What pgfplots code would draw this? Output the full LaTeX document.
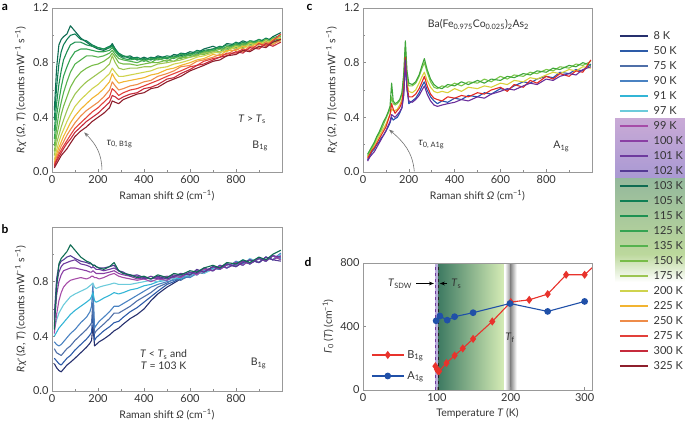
\documentclass[border=0pt]{standalone}
\usepackage{pgfplots}
\pgfplotsset{compat=1.18}
\usepackage{pgfplotstable}
\usepackage{fontspec}
\setmainfont{Lato}
\newfontfamily\dejavu{DejaVu Sans}
\usetikzlibrary{arrows.meta}

\definecolor{k8}{HTML}{26306E}
\definecolor{k50}{HTML}{2D5BA8}
\definecolor{k75}{HTML}{4F6FA8}
\definecolor{k90}{HTML}{4A82C2}
\definecolor{k91}{HTML}{33B5D6}
\definecolor{k97}{HTML}{6CCBDB}
\definecolor{k99}{HTML}{A64CA8}
\definecolor{k100}{HTML}{8A3FA4}
\definecolor{k101}{HTML}{6E3A9E}
\definecolor{k102}{HTML}{553A94}
\definecolor{k103}{HTML}{0E6B52}
\definecolor{k105}{HTML}{0F7F55}
\definecolor{k115}{HTML}{1E9152}
\definecolor{k125}{HTML}{34A352}
\definecolor{k135}{HTML}{55B24E}
\definecolor{k150}{HTML}{77BC48}
\definecolor{k175}{HTML}{9CC552}
\definecolor{k200}{HTML}{CFD34E}
\definecolor{k225}{HTML}{F2B431}
\definecolor{k250}{HTML}{EE8C4A}
\definecolor{k275}{HTML}{E2403A}
\definecolor{k300}{HTML}{C62B3C}
\definecolor{k325}{HTML}{8E1F2C}
\definecolor{cb}{HTML}{2452B0}
\definecolor{cp}{HTML}{6A2D9A}
\definecolor{cr}{HTML}{E22A22}
\definecolor{cy}{HTML}{D9D13A}
\definecolor{cg}{HTML}{3FA63A}
\definecolor{cl}{HTML}{7BC74A}
\definecolor{dred}{HTML}{E8332C}
\definecolor{dblue}{HTML}{2050A8}
\definecolor{G1}{HTML}{3E7A62}
\definecolor{G2}{HTML}{8DBC98}
\definecolor{G3}{HTML}{D4EBB5}
\definecolor{P1}{HTML}{C9AAD6}
\definecolor{P2}{HTML}{A999D3}
\definecolor{L1}{HTML}{94B89C}
\definecolor{L2}{HTML}{BCD89C}

\pgfplotstableread{
x a103 a105 a115 a125 a135 a150 a175 a200 a225 a250 a275 a300 a325
10 0.45 0.38 0.30 0.24 0.19 0.15 0.12 0.09 0.07 0.06 0.05 0.04 0.03
20 0.76 0.62 0.50 0.41 0.32 0.26 0.21 0.16 0.13 0.11 0.09 0.08 0.06
30 0.93 0.79 0.64 0.52 0.43 0.34 0.27 0.22 0.18 0.15 0.13 0.11 0.09
40 0.97 0.88 0.74 0.62 0.51 0.42 0.33 0.27 0.22 0.19 0.16 0.14 0.12
50 0.99 0.93 0.82 0.70 0.58 0.48 0.38 0.31 0.26 0.22 0.19 0.17 0.14
65 1.01 0.97 0.88 0.77 0.66 0.55 0.45 0.37 0.31 0.27 0.23 0.21 0.17
80 1.07 1.00 0.93 0.83 0.73 0.62 0.51 0.42 0.36 0.31 0.27 0.24 0.21
100 1.03 1.01 0.95 0.88 0.79 0.68 0.57 0.48 0.41 0.36 0.32 0.29 0.26
125 0.98 0.97 0.95 0.90 0.82 0.73 0.62 0.53 0.46 0.41 0.36 0.33 0.30
150 0.95 0.96 0.93 0.90 0.85 0.76 0.66 0.57 0.50 0.45 0.40 0.37 0.33
175 0.92 0.93 0.92 0.89 0.85 0.78 0.69 0.61 0.54 0.48 0.44 0.40 0.37
200 0.90 0.91 0.91 0.88 0.84 0.79 0.72 0.64 0.57 0.51 0.47 0.43 0.40
225 0.89 0.90 0.90 0.88 0.85 0.81 0.75 0.68 0.61 0.55 0.51 0.47 0.43
250 0.91 0.92 0.91 0.89 0.87 0.84 0.79 0.72 0.66 0.60 0.55 0.51 0.47
262 0.94 0.93 0.92 0.91 0.89 0.87 0.85 0.76 0.72 0.66 0.61 0.56 0.52
275 0.90 0.90 0.89 0.88 0.86 0.84 0.80 0.73 0.68 0.63 0.59 0.55 0.51
290 0.86 0.87 0.86 0.85 0.83 0.80 0.76 0.70 0.65 0.60 0.56 0.53 0.50
310 0.84 0.85 0.85 0.83 0.82 0.79 0.75 0.70 0.66 0.61 0.58 0.55 0.53
340 0.85 0.83 0.84 0.82 0.81 0.79 0.76 0.71 0.67 0.63 0.60 0.57 0.55
370 0.82 0.84 0.82 0.83 0.80 0.78 0.76 0.72 0.68 0.64 0.61 0.58 0.57
400 0.84 0.82 0.83 0.81 0.82 0.79 0.77 0.73 0.69 0.66 0.63 0.61 0.58
430 0.82 0.84 0.82 0.83 0.80 0.80 0.77 0.74 0.71 0.67 0.65 0.62 0.61
460 0.85 0.83 0.84 0.82 0.83 0.80 0.79 0.76 0.72 0.70 0.67 0.64 0.62
500 0.83 0.85 0.83 0.84 0.81 0.82 0.80 0.77 0.75 0.72 0.70 0.68 0.66
530 0.86 0.84 0.85 0.83 0.84 0.81 0.81 0.79 0.76 0.74 0.72 0.69 0.68
560 0.85 0.87 0.84 0.86 0.83 0.84 0.82 0.80 0.78 0.77 0.74 0.72 0.70
600 0.88 0.86 0.87 0.85 0.86 0.84 0.84 0.82 0.80 0.78 0.77 0.75 0.74
630 0.87 0.89 0.86 0.88 0.85 0.86 0.85 0.84 0.82 0.81 0.78 0.78 0.76
660 0.90 0.88 0.89 0.87 0.88 0.86 0.87 0.85 0.83 0.82 0.81 0.79 0.78
700 0.92 0.90 0.90 0.89 0.89 0.88 0.88 0.87 0.86 0.84 0.83 0.82 0.81
730 0.90 0.92 0.91 0.91 0.88 0.90 0.87 0.88 0.85 0.86 0.84 0.84 0.82
760 0.94 0.91 0.93 0.90 0.92 0.89 0.91 0.88 0.89 0.86 0.87 0.85 0.85
800 0.93 0.95 0.92 0.94 0.91 0.93 0.90 0.92 0.89 0.90 0.87 0.88 0.86
830 0.96 0.93 0.95 0.92 0.94 0.91 0.93 0.90 0.92 0.88 0.90 0.87 0.89
860 0.94 0.96 0.93 0.96 0.93 0.95 0.92 0.94 0.91 0.92 0.89 0.91 0.88
900 0.97 0.95 0.97 0.94 0.96 0.93 0.95 0.93 0.95 0.91 0.94 0.90 0.92
930 0.95 0.98 0.94 0.97 0.94 0.97 0.93 0.96 0.92 0.95 0.92 0.94 0.91
960 0.99 0.96 0.98 0.95 0.98 0.95 0.97 0.94 0.97 0.93 0.96 0.92 0.95
995 1.02 0.98 1.00 0.97 0.99 0.97 1.00 0.96 0.98 0.97 1.01 0.95 0.97
}\tabA

\pgfplotstableread{
x b8 b50 b75 b90 b91 b97 b99 b100 b101 b102 b103
10 0.20 0.24 0.31 0.36 0.40 0.45 0.42 0.48 0.52 0.55 0.45
20 0.17 0.22 0.28 0.34 0.43 0.52 0.56 0.70 0.78 0.82 0.76
30 0.15 0.20 0.27 0.33 0.46 0.57 0.66 0.80 0.87 0.92 0.93
40 0.14 0.19 0.26 0.34 0.48 0.60 0.72 0.85 0.91 0.95 0.97
50 0.16 0.21 0.28 0.36 0.50 0.63 0.76 0.88 0.93 0.96 0.99
65 0.19 0.24 0.31 0.39 0.53 0.66 0.79 0.89 0.94 0.98 1.02
80 0.21 0.26 0.33 0.42 0.56 0.69 0.81 0.90 0.95 0.99 1.07
100 0.24 0.30 0.37 0.45 0.59 0.71 0.82 0.90 0.96 0.97 1.03
125 0.28 0.34 0.41 0.50 0.62 0.73 0.83 0.89 0.93 0.95 0.98
150 0.32 0.38 0.45 0.54 0.65 0.75 0.82 0.88 0.92 0.94 0.95
165 0.35 0.41 0.48 0.58 0.67 0.77 0.83 0.87 0.91 0.93 0.94
172 0.37 0.43 0.50 0.62 0.69 0.78 0.84 0.87 0.90 0.93 0.93
178 0.48 0.58 0.66 0.78 0.72 0.79 0.84 0.88 0.91 0.92 0.92
185 0.33 0.37 0.42 0.46 0.66 0.76 0.83 0.87 0.90 0.92 0.92
192 0.34 0.39 0.44 0.48 0.65 0.75 0.83 0.86 0.89 0.91 0.91
205 0.36 0.41 0.46 0.51 0.66 0.76 0.82 0.86 0.89 0.90 0.90
225 0.38 0.44 0.49 0.54 0.68 0.77 0.83 0.86 0.88 0.90 0.89
250 0.41 0.47 0.53 0.58 0.70 0.78 0.85 0.87 0.89 0.91 0.91
270 0.44 0.50 0.57 0.62 0.72 0.79 0.86 0.88 0.90 0.92 0.94
290 0.46 0.51 0.57 0.62 0.71 0.78 0.84 0.86 0.88 0.88 0.88
310 0.49 0.54 0.59 0.64 0.72 0.78 0.83 0.85 0.86 0.87 0.86
340 0.53 0.58 0.62 0.67 0.74 0.78 0.82 0.84 0.85 0.84 0.85
370 0.56 0.61 0.66 0.70 0.75 0.79 0.81 0.82 0.84 0.85 0.83
400 0.60 0.65 0.69 0.73 0.77 0.80 0.82 0.83 0.82 0.83 0.84
430 0.66 0.69 0.72 0.76 0.78 0.81 0.80 0.82 0.84 0.82 0.82
460 0.71 0.73 0.76 0.78 0.80 0.80 0.82 0.83 0.82 0.84 0.85
500 0.76 0.78 0.79 0.80 0.81 0.83 0.81 0.84 0.83 0.82 0.83
530 0.79 0.80 0.82 0.81 0.83 0.82 0.84 0.83 0.85 0.84 0.86
560 0.82 0.83 0.81 0.84 0.82 0.85 0.83 0.86 0.84 0.86 0.85
600 0.84 0.86 0.85 0.83 0.86 0.84 0.87 0.85 0.87 0.85 0.88
630 0.87 0.85 0.88 0.86 0.85 0.88 0.85 0.88 0.86 0.89 0.87
660 0.86 0.89 0.87 0.89 0.88 0.86 0.89 0.87 0.90 0.87 0.90
700 0.90 0.88 0.91 0.88 0.90 0.89 0.88 0.91 0.88 0.91 0.92
730 0.89 0.92 0.89 0.92 0.89 0.92 0.91 0.89 0.92 0.90 0.90
760 0.93 0.90 0.93 0.90 0.93 0.90 0.93 0.92 0.90 0.93 0.94
800 0.91 0.94 0.92 0.95 0.91 0.94 0.91 0.94 0.93 0.91 0.93
830 0.95 0.92 0.95 0.93 0.96 0.92 0.95 0.92 0.95 0.94 0.96
860 0.93 0.96 0.93 0.96 0.93 0.97 0.93 0.96 0.93 0.96 0.94
900 0.97 0.94 0.97 0.94 0.97 0.94 0.97 0.94 0.97 0.94 0.98
930 0.95 0.98 0.95 0.98 0.95 0.98 0.95 0.98 0.95 0.98 0.96
960 0.99 0.96 0.99 0.96 0.99 0.96 0.99 0.96 0.99 0.96 1.00
995 0.97 1.00 0.96 1.01 0.97 1.00 0.96 0.99 0.98 0.95 1.03
}\tabB

\pgfplotstableread{
x cb cp cr cy cg cl
20 0.09 0.08 0.10 0.11 0.13 0.12
30 0.12 0.11 0.13 0.14 0.16 0.15
40 0.15 0.13 0.16 0.17 0.19 0.18
50 0.17 0.15 0.18 0.20 0.22 0.21
60 0.20 0.18 0.21 0.23 0.26 0.25
70 0.22 0.21 0.24 0.26 0.29 0.28
80 0.25 0.24 0.27 0.29 0.33 0.31
90 0.27 0.27 0.30 0.32 0.37 0.35
100 0.30 0.30 0.33 0.35 0.40 0.39
110 0.33 0.34 0.38 0.39 0.44 0.43
118 0.36 0.37 0.42 0.42 0.48 0.46
125 0.40 0.42 0.50 0.46 0.65 0.55
132 0.38 0.41 0.46 0.45 0.52 0.50
140 0.39 0.40 0.43 0.45 0.50 0.49
150 0.40 0.42 0.45 0.46 0.51 0.50
160 0.43 0.44 0.47 0.49 0.53 0.52
170 0.47 0.47 0.51 0.53 0.58 0.57
178 0.58 0.56 0.62 0.64 0.72 0.70
185 0.80 0.82 0.84 0.88 0.96 0.92
192 0.62 0.60 0.63 0.66 0.74 0.71
200 0.50 0.52 0.55 0.59 0.65 0.63
215 0.52 0.51 0.55 0.58 0.64 0.63
230 0.54 0.53 0.57 0.60 0.66 0.65
245 0.58 0.56 0.61 0.65 0.71 0.70
258 0.63 0.60 0.66 0.70 0.78 0.76
268 0.66 0.63 0.70 0.73 0.83 0.80
280 0.60 0.57 0.63 0.67 0.75 0.73
295 0.55 0.52 0.57 0.62 0.68 0.66
310 0.52 0.49 0.54 0.59 0.64 0.62
325 0.50 0.48 0.53 0.58 0.62 0.61
345 0.52 0.49 0.52 0.59 0.61 0.63
370 0.51 0.50 0.55 0.58 0.64 0.62
400 0.54 0.51 0.54 0.61 0.63 0.65
430 0.53 0.53 0.56 0.59 0.66 0.63
460 0.56 0.52 0.55 0.62 0.64 0.66
500 0.55 0.55 0.58 0.61 0.67 0.65
530 0.58 0.54 0.57 0.63 0.65 0.68
560 0.57 0.57 0.60 0.62 0.68 0.66
600 0.61 0.59 0.62 0.65 0.67 0.70
630 0.60 0.61 0.59 0.64 0.70 0.68
660 0.63 0.60 0.64 0.67 0.69 0.71
700 0.66 0.63 0.62 0.66 0.72 0.70
730 0.65 0.65 0.67 0.69 0.71 0.73
760 0.68 0.64 0.65 0.68 0.74 0.72
800 0.70 0.68 0.70 0.71 0.73 0.75
830 0.69 0.67 0.68 0.73 0.76 0.74
860 0.73 0.70 0.72 0.72 0.75 0.77
900 0.72 0.72 0.70 0.75 0.78 0.76
930 0.75 0.71 0.74 0.74 0.77 0.79
960 0.74 0.75 0.73 0.77 0.80 0.78
995 0.79 0.77 0.82 0.76 0.78 0.81
}\tabC

\tikzset{ann/.style={font=\fontsize{10.5}{12}\selectfont, text=black!80}}
\newcommand{\lt}[1]{\makebox[32pt][l]{#1}}
\pgfplotsset{
  panel/.style={
    scale only axis,
    axis line style={draw=black!40, line width=0.6pt},
    every tick/.style={draw=black!45, line width=0.5pt},
    major tick length=3pt, minor tick length=2pt,
    tick align=inside, xtick pos=left, ytick pos=left,
    tick label style={font=\fontsize{11}{12}\selectfont, text=black!80},
    label style={font=\fontsize{10.5}{12}\selectfont, text=black!80},
    /pgf/number format/assume math mode=true,
  },
  raman/.style={panel, xmin=0, xmax=1000, ymin=0, ymax=1.2,
    xtick={0,200,400,600,800}, minor xtick={100,300,500,700,900},
    ytick={0,0.4,0.8,1.2}, minor ytick={0.2,0.6,1.0},
    yticklabel style={/pgf/number format/fixed, /pgf/number format/fixed zerofill, /pgf/number format/precision=1},
    xlabel={Raman shift \textit{Ω} (cm\textsuperscript{−1})},
    ylabel={\textit{Rχ}{\dejavu\fontsize{9}{10}\selectfont ″}\,(\textit{Ω}, \textit{T}) (counts mW\textsuperscript{−1} s\textsuperscript{−1})},
    every axis plot/.append style={line width=1.1pt, line join=round},
  },
}

\begin{document}
\begin{tikzpicture}
\useasboundingbox (0pt,0pt) rectangle (685pt,424pt);

% legend backgrounds
\path[top color=P1, bottom color=P2] (615pt,246pt) rectangle (685pt,306pt);
\path[top color=L1, bottom color=L2] (615pt,170pt) rectangle (685pt,246pt);
\path[top color=L2, bottom color=white] (615pt,142pt) rectangle (685pt,170pt);

% panel a
\begin{axis}[raman, at={(52pt,252pt)}, anchor=south west, width=230pt, height=164pt]
\addplot[k103] table[x=x,y=a103]{\tabA};
\addplot[k105] table[x=x,y=a105]{\tabA};
\addplot[k115] table[x=x,y=a115]{\tabA};
\addplot[k125] table[x=x,y=a125]{\tabA};
\addplot[k135] table[x=x,y=a135]{\tabA};
\addplot[k150] table[x=x,y=a150]{\tabA};
\addplot[k175] table[x=x,y=a175]{\tabA};
\addplot[k200] table[x=x,y=a200]{\tabA};
\addplot[k225] table[x=x,y=a225]{\tabA};
\addplot[k250] table[x=x,y=a250]{\tabA};
\addplot[k275] table[x=x,y=a275]{\tabA};
\addplot[k300] table[x=x,y=a300]{\tabA};
\addplot[k325] table[x=x,y=a325]{\tabA};
\node[ann] at (axis cs:870,0.385) {\textit{T} > \textit{T}\textsubscript{s}};
\node[ann] at (axis cs:905,0.19) {B\textsubscript{1g}};
\draw[black!55, line width=0.6pt, -{Stealth[length=5pt]}] (axis cs:217,0.015) to[out=90,in=-45] (axis cs:140,0.29);
\node[ann, anchor=west] at (axis cs:222,0.205) {\textit{τ}\textsubscript{0, B1g}};
\end{axis}

% panel b
\begin{axis}[raman, at={(52pt,33pt)}, anchor=south west, width=230pt, height=164pt, ytick={0,0.4,0.8}]
\addplot[k8] table[x=x,y=b8]{\tabB};
\addplot[k50] table[x=x,y=b50]{\tabB};
\addplot[k75] table[x=x,y=b75]{\tabB};
\addplot[k90] table[x=x,y=b90]{\tabB};
\addplot[k91] table[x=x,y=b91]{\tabB};
\addplot[k97] table[x=x,y=b97]{\tabB};
\addplot[k99] table[x=x,y=b99]{\tabB};
\addplot[k100] table[x=x,y=b100]{\tabB};
\addplot[k101] table[x=x,y=b101]{\tabB};
\addplot[k102] table[x=x,y=b102]{\tabB};
\addplot[k103] table[x=x,y=b103]{\tabB};
\node[ann, align=center] at (axis cs:485,0.226) {\textit{T} < \textit{T}\textsubscript{s} and\\\textit{T} = 103 K};
\node[ann] at (axis cs:898,0.2) {B\textsubscript{1g}};
\end{axis}

% panel c
\begin{axis}[raman, at={(363pt,252pt)}, anchor=south west, width=229pt, height=164pt]
\addplot[cb] table[x=x,y=cb]{\tabC};
\addplot[cy] table[x=x,y=cy]{\tabC};
\addplot[cl] table[x=x,y=cl]{\tabC};
\addplot[cg] table[x=x,y=cg]{\tabC};
\addplot[cr] table[x=x,y=cr]{\tabC};
\addplot[cp] table[x=x,y=cp]{\tabC};
\node[ann] at (axis cs:504,1.078) {Ba(Fe\textsubscript{0.975}Co\textsubscript{0.025})\textsubscript{2}As\textsubscript{2}};
\node[ann] at (axis cs:866,0.188) {A\textsubscript{1g}};
\draw[black!55, line width=0.6pt, -{Stealth[length=5pt]}] (axis cs:224,0.005) to[out=95,in=-40] (axis cs:114,0.31);
\node[ann, anchor=west] at (axis cs:226,0.2) {\textit{τ}\textsubscript{0, A1g}};
\end{axis}

% panel d
\begin{axis}[panel, axis on top, at={(363pt,34pt)}, anchor=south west, width=229pt, height=127pt,
  xmin=0, xmax=310, ymin=0, ymax=800, xtick={0,100,200,300}, ytick={0,400,800},
  xlabel={Temperature \textit{T} (K)},
  ylabel={\textit{Γ}\textsubscript{0}\,(\textit{T}) (cm\textsuperscript{−1})},
  legend style={at={(0.035,0.36)}, anchor=north west, draw=none, fill=none, inner sep=0pt, row sep=0pt, column sep=3pt,
    nodes={inner sep=0pt, minimum height=21pt, font=\fontsize{11}{12}\selectfont, text=black!80}},
  legend image code/.code={\draw[#1, mark repeat=2, mark phase=2] plot coordinates {(0pt,0pt) (16pt,0pt) (32pt,0pt)};},
]
\path[left color=G1, middle color=G2, right color=G3] (axis cs:102,0) rectangle (axis cs:190,800);
\path[fill=P2!80] (axis cs:98,0) rectangle (axis cs:102,800);
\path[left color=white, right color=black!45] (axis cs:192,0) rectangle (axis cs:200,800);
\path[left color=black!45, right color=white] (axis cs:200,0) rectangle (axis cs:208,800);
\draw[k101, dashed, line width=0.7pt] (axis cs:98,0) -- (axis cs:98,800);
\draw[black!85, dashed, line width=0.7pt] (axis cs:102,0) -- (axis cs:102,800);
\addplot[dred, line width=1.1pt, mark=diamond*, mark size=3.2pt] coordinates {
(98,150) (100,132) (101,122) (103,118) (113,170) (124,217) (135,262) (149,322) (175,432) (200,554) (225,568) (250,604) (275,726) (300,726) (325,835)};
\addlegendentry{\makebox[22pt][l]{B\textsubscript{1g}}}
\addplot[dblue, line width=1.1pt, mark=*, mark size=2.8pt] coordinates {
(99,436) (104,466) (114,440) (124,462) (149,487) (199,545) (250,495) (300,558)};
\addlegendentry{\makebox[22pt][l]{A\textsubscript{1g}}}
\draw[black, line width=0.7pt, -{Stealth[length=5pt]}] (axis cs:72,671) -- (axis cs:96,671);
\node[ann, anchor=east] at (axis cs:71,671) {\textit{T}\textsubscript{SDW}};
\draw[black, line width=0.7pt, -{Stealth[length=5pt]}] (axis cs:114,671) -- (axis cs:104,671);
\node[ann, anchor=west] at (axis cs:115,671) {\textit{T}\textsubscript{s}};
\node[ann] at (axis cs:199,330) {\textit{T}\textsubscript{f}};
\end{axis}

% legend column
\begin{axis}[hide axis, scale only axis, width=10pt, height=10pt, at={(619pt,395.5pt)}, anchor=north west,
  xmin=0, xmax=1, ymin=0, ymax=1,
  legend style={at={(0,1)}, anchor=north west, draw=none, fill=none, inner sep=0pt, row sep=0pt, column sep=5pt,
    nodes={inner sep=0pt, minimum height=15pt, font=\fontsize{11}{12}\selectfont, text=black!80}},
  legend image code/.code={\draw[#1, line width=1.5pt] (0pt,0pt) -- (28pt,0pt);}]
\addlegendimage{k8}\addlegendentry{\lt{8 K}}
\addlegendimage{k50}\addlegendentry{\lt{50 K}}
\addlegendimage{k75}\addlegendentry{\lt{75 K}}
\addlegendimage{k90}\addlegendentry{\lt{90 K}}
\addlegendimage{k91}\addlegendentry{\lt{91 K}}
\addlegendimage{k97}\addlegendentry{\lt{97 K}}
\addlegendimage{k99}\addlegendentry{\lt{99 K}}
\addlegendimage{k100}\addlegendentry{\lt{100 K}}
\addlegendimage{k101}\addlegendentry{\lt{101 K}}
\addlegendimage{k102}\addlegendentry{\lt{102 K}}
\addlegendimage{k103}\addlegendentry{\lt{103 K}}
\addlegendimage{k105}\addlegendentry{\lt{105 K}}
\addlegendimage{k115}\addlegendentry{\lt{115 K}}
\addlegendimage{k125}\addlegendentry{\lt{125 K}}
\addlegendimage{k135}\addlegendentry{\lt{135 K}}
\addlegendimage{k150}\addlegendentry{\lt{150 K}}
\addlegendimage{k175}\addlegendentry{\lt{175 K}}
\addlegendimage{k200}\addlegendentry{\lt{200 K}}
\addlegendimage{k225}\addlegendentry{\lt{225 K}}
\addlegendimage{k250}\addlegendentry{\lt{250 K}}
\addlegendimage{k275}\addlegendentry{\lt{275 K}}
\addlegendimage{k300}\addlegendentry{\lt{300 K}}
\addlegendimage{k325}\addlegendentry{\lt{325 K}}
\end{axis}

\node[font=\bfseries\fontsize{12}{12}\selectfont] at (5pt,417pt) {a};
\node[font=\bfseries\fontsize{12}{12}\selectfont] at (309.5pt,417pt) {c};
\node[font=\bfseries\fontsize{12}{12}\selectfont] at (5pt,195pt) {b};
\node[font=\bfseries\fontsize{12}{12}\selectfont] at (308pt,162pt) {d};
\end{tikzpicture}
\end{document}
